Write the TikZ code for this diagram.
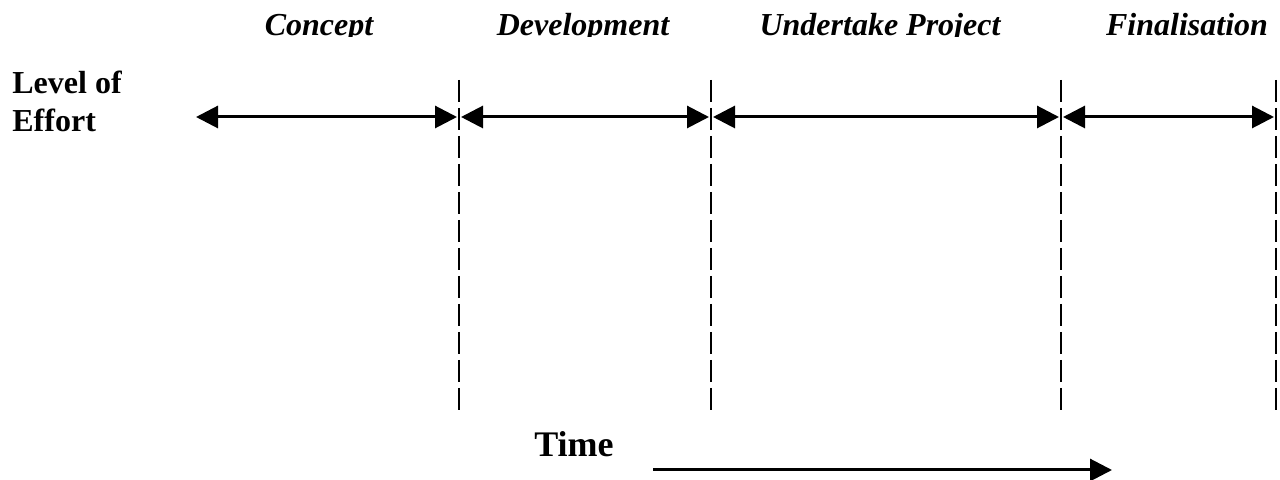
\documentclass[tikz,border=0pt]{standalone}
\usepackage{fontspec}
\setmainfont{Liberation Serif}
\usetikzlibrary{arrows.meta}
\begin{document}
\begin{tikzpicture}[x=0.5pt,y=-0.5pt,
  phase/.style={font=\fontsize{16}{18}\selectfont\bfseries\itshape, anchor=base, inner sep=0pt},
  axislabel/.style={font=\fontsize{16}{18}\selectfont\bfseries, anchor=base west, inner sep=0pt},
  divider/.style={line width=1pt, dash pattern=on 11pt off 3pt},
  span/.style={line width=1.5pt, {Triangle[length=11pt,width=11pt]}-{Triangle[length=11pt,width=11pt]}, shorten <=1pt, shorten >=1pt},
  timearrow/.style={line width=1.5pt, -{Triangle[length=11pt,width=11pt]}}]
\useasboundingbox (0,0) rectangle (1280,480);

% phase titles, cut just below the baseline
\begin{scope}
  \clip (0,0) rectangle (1280,37);
  \node[phase] (t1) at (319,36) {Concept};
  \node[phase] (t2) at (583,36) {Development};
  \node[phase] (t3) at (880,36) {Undertake Project};
  \node[phase] (t4) at (1187,36) {Finalisation};
\end{scope}

% vertical axis label
\node[axislabel] (lv1) at (12,94) {Level of};
\node[axislabel] (lv2) at (12,132) {Effort};

% phase boundaries
\coordinate (s0) at (194,117);
\coordinate (s1) at (459,117);
\coordinate (s2) at (711,117);
\coordinate (s3) at (1061,117);
\coordinate (s4) at (1276,117);
\foreach \b in {s1,s2,s3,s4}
  \draw[divider] (\b |- 0,80) -- (\b |- 0,410);

% phase spans
\draw[span] (s0) -- (s1);
\draw[span] (s1) -- (s2);
\draw[span] (s2) -- (s3);
\draw[span] (s3) -- (s4);

% time axis
\node[font=\fontsize{18}{20}\selectfont\bfseries, anchor=base, inner sep=0pt] (time) at (574,457) {Time};
\coordinate (ta) at (653,470);
\coordinate (tb) at (1112,470);
\draw[timearrow] (ta) -- (tb);
\end{tikzpicture}
\end{document}
